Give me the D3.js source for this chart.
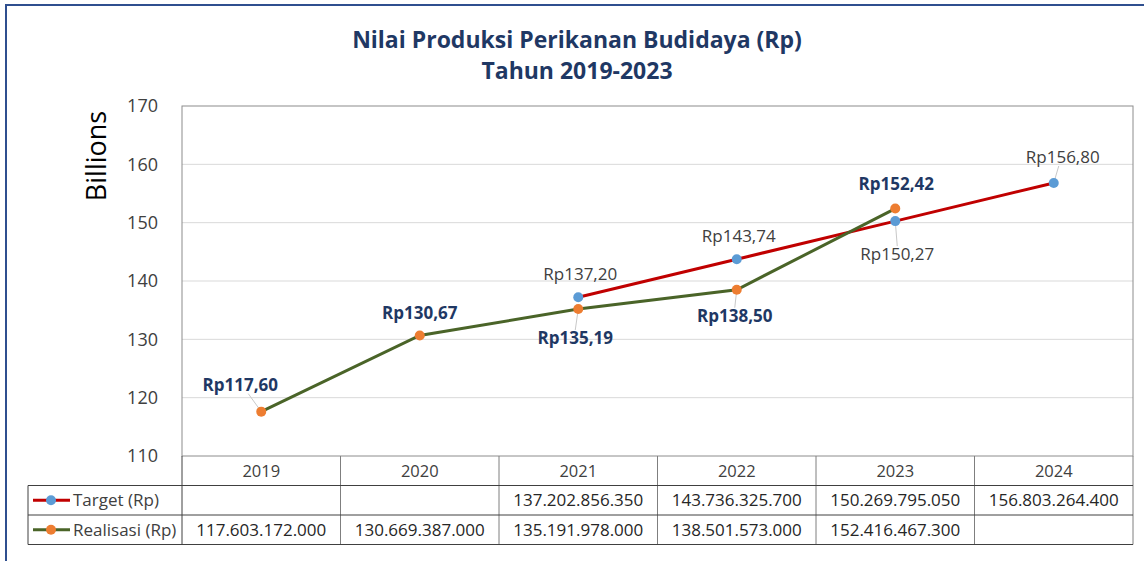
<!DOCTYPE html>
<html>
<head>
<meta charset="utf-8">
<script src="https://cdn.jsdelivr.net/npm/d3@7"></script>
<style>
  html, body { margin: 0; padding: 0; background: #fff; }
  svg { display: block; font-family: "Open Sans", sans-serif; }
</style>
</head>
<body>
<svg id="chart" width="1144" height="561"></svg>
<script>
// ---- data ----
const years = ["2019", "2020", "2021", "2022", "2023", "2024"];
const targetValues = [null, null, 137202856350, 143736325700, 150269795050, 156803264400];
const realisasiValues = [117603172000, 130669387000, 135191978000, 138501573000, 152416467300, null];
const seriesNames = ["Target (Rp)", "Realisasi (Rp)"];
const yTicks = [110, 120, 130, 140, 150, 160, 170];
const titleLines = ["Nilai Produksi Perikanan Budidaya (Rp)", "Tahun 2019-2023"];
const yAxisTitle = "Billions";

// ---- label placement (style) ----
const targetLabelOffset = [null, null, [2, -17], [2, -17], [2, 39], [9, -20]];
const realisasiLabelOffset = [[-21, -21], [0, -16], [-3, 35], [-2, 32], [1, -19], null];
const targetLeader = [false, false, false, false, true, true];
const realisasiLeader = [true, false, true, true, false, false];

const svg = d3.select("#chart");
const pLeft = 182, pRight = 1133, pTop = 106, pBottom = 456;
const rowH = 29.5;
const tableLeft = 28;

// frame
svg.append("rect").attr("x", 6).attr("y", 5).attr("width", 1170).attr("height", 620)
  .attr("fill", "none").attr("stroke", "#2F4F8F").attr("stroke-width", 2);

const x = d3.scaleBand().domain(years).range([pLeft, pRight]);
const y = d3.scaleLinear().domain([110, 170]).range([pBottom, pTop]);
const cx = d => x(d) + x.bandwidth() / 2;

// title
svg.append("g").selectAll("text").data(titleLines).join("text")
  .attr("x", 577).attr("y", (d, i) => 48 + i * 31)
  .attr("text-anchor", "middle").attr("font-size", 23).attr("font-weight", 700)
  .attr("fill", "#1F3864").text(d => d);

// gridlines
svg.append("g").selectAll("line").data(yTicks.filter(t => t > 110 && t < 170)).join("line")
  .attr("x1", pLeft).attr("x2", pRight).attr("y1", d => y(d)).attr("y2", d => y(d))
  .attr("stroke", "#d9d9d9").attr("stroke-width", 1);

// plot border
svg.append("rect").attr("x", pLeft).attr("y", pTop).attr("width", pRight - pLeft).attr("height", pBottom - pTop)
  .attr("fill", "none").attr("stroke", "#8c8c8c").attr("stroke-width", 1);

// y axis
const yAxis = d3.axisLeft(y).tickValues(yTicks).tickSize(0).tickPadding(24);
const ya = svg.append("g").attr("transform", `translate(${pLeft},0)`).call(yAxis);
ya.select(".domain").remove();
ya.selectAll("text").attr("font-size", 18).attr("fill", "#404040").attr("font-family", "Open Sans, sans-serif");

svg.append("text").attr("transform", `translate(106,156) rotate(-90)`)
  .attr("text-anchor", "middle").attr("font-size", 27).attr("fill", "#000").text(yAxisTitle);

// lines
const toB = v => v / 1e9;
const tPts = years.map((yr, i) => ({ yr, v: targetValues[i], i })).filter(d => d.v != null);
const rPts = years.map((yr, i) => ({ yr, v: realisasiValues[i], i })).filter(d => d.v != null);
const line = d3.line().x(d => cx(d.yr)).y(d => y(toB(d.v)));

svg.append("path").datum(tPts).attr("d", line).attr("fill", "none")
  .attr("stroke", "#C00000").attr("stroke-width", 3);
svg.append("path").datum(rPts).attr("d", line).attr("fill", "none")
  .attr("stroke", "#4A6428").attr("stroke-width", 3);

const fmtLabel = v => "Rp" + toB(v).toFixed(2).replace(".", ",");

function labels(pts, offsets, leaders, bold, color) {
  const g = svg.append("g");
  pts.forEach(d => {
    const o = offsets[d.i];
    const px = cx(d.yr), py = y(toB(d.v));
    const lx = px + o[0], ly = py + o[1];
    if (leaders[d.i]) {
      let ey = o[1] < 0 ? ly + 3 : ly - 14;
      let ex = lx;
      if (o[0] < -10) { ex = lx + 8; }
      if (o[0] > 5) { ex = lx - 4; }
      g.append("line").attr("x1", ex).attr("y1", ey).attr("x2", px).attr("y2", py)
        .attr("stroke", "#c8c8c8").attr("stroke-width", 1);
    }
    g.append("text").attr("x", lx).attr("y", ly).attr("text-anchor", "middle")
      .attr("font-size", 17).attr("font-weight", bold ? 700 : 400).attr("fill", color)
      .text(fmtLabel(d.v));
  });
}
labels(tPts, targetLabelOffset, targetLeader, false, "#404040");
labels(rPts, realisasiLabelOffset, realisasiLeader, true, "#1F3864");

// markers
svg.append("g").selectAll("circle").data(tPts).join("circle")
  .attr("cx", d => cx(d.yr)).attr("cy", d => y(toB(d.v))).attr("r", 5).attr("fill", "#5B9BD5");
svg.append("g").selectAll("circle").data(rPts).join("circle")
  .attr("cx", d => cx(d.yr)).attr("cy", d => y(toB(d.v))).attr("r", 5).attr("fill", "#ED7D31");

// ---- data table ----
const tb = svg.append("g");
const r1 = pBottom + rowH, r2 = r1 + rowH, r3 = r2 + rowH;
tb.selectAll("text.yr").data(years).join("text").attr("class", "yr")
  .attr("x", d => cx(d)).attr("y", pBottom + 21).attr("text-anchor", "middle")
  .attr("font-size", 16.5).attr("fill", "#404040").text(d => d);
tb.selectAll("line.v").data(years.slice(1)).join("line").attr("class", "v")
  .attr("x1", d => x(d)).attr("x2", d => x(d)).attr("y1", pBottom).attr("y2", r3)
  .attr("stroke", "#7f7f7f").attr("stroke-width", 1);
tb.append("line").attr("x1", pLeft).attr("x2", pLeft).attr("y1", pBottom).attr("y2", r3).attr("stroke", "#404040");
tb.append("line").attr("x1", pRight).attr("x2", pRight).attr("y1", pBottom).attr("y2", r3).attr("stroke", "#7f7f7f");
tb.append("line").attr("x1", tableLeft).attr("x2", tableLeft).attr("y1", r1).attr("y2", r3).attr("stroke", "#404040");
[r1, r2, r3].forEach(ry => {
  tb.append("line").attr("x1", tableLeft).attr("x2", pRight).attr("y1", ry).attr("y2", ry)
    .attr("stroke", "#404040").attr("stroke-width", 1);
});

const loc = d3.formatLocale({ decimal: ",", thousands: ".", grouping: [3], currency: ["Rp", ""] });
const fmtNum = loc.format(",.0f");
const rows = [
  { name: seriesNames[0], vals: targetValues, line: "#C00000", dot: "#5B9BD5", y0: r1 },
  { name: seriesNames[1], vals: realisasiValues, line: "#4A6428", dot: "#ED7D31", y0: r2 }
];
rows.forEach(r => {
  const my = r.y0 + rowH / 2;
  tb.append("line").attr("x1", 33).attr("x2", 70).attr("y1", my).attr("y2", my)
    .attr("stroke", r.line).attr("stroke-width", 3);
  tb.append("circle").attr("cx", 51).attr("cy", my).attr("r", 5).attr("fill", r.dot);
  tb.append("text").attr("x", 73).attr("y", my + 6).attr("font-size", 17).attr("fill", "#404040").text(r.name);
  tb.selectAll(null).data(years.map((yr, i) => ({ yr, v: r.vals[i] })).filter(d => d.v != null)).join("text")
    .attr("x", d => cx(d.yr)).attr("y", my + 6).attr("text-anchor", "middle")
    .attr("font-size", 17).attr("fill", "#262626").text(d => fmtNum(d.v));
});
</script>
</body>
</html>
